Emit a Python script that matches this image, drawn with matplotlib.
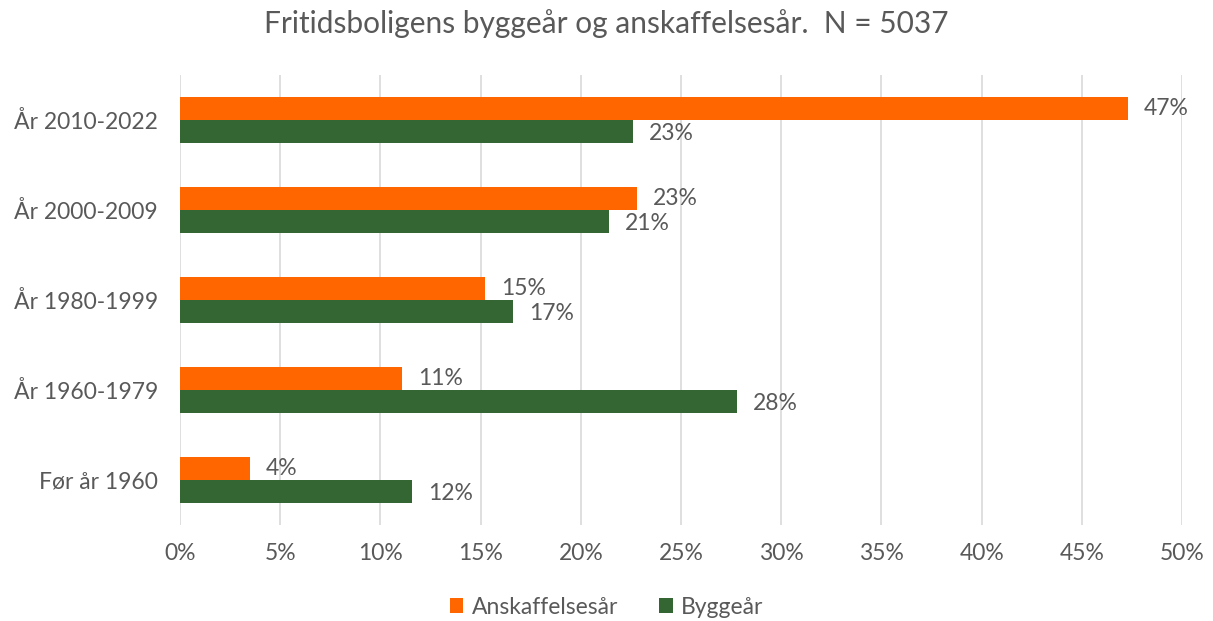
import matplotlib.pyplot as plt
import numpy as np

plt.rcParams['font.family'] = ['Lato', 'DejaVu Sans']

categories = ['År 2010-2022', 'År 2000-2009', 'År 1980-1999', 'År 1960-1979', 'Før år 1960']
anskaffelse = [47.3, 22.8, 15.2, 11.1, 3.5]
bygge = [22.6, 21.4, 16.6, 27.8, 11.6]
xticks = [0, 5, 10, 15, 20, 25, 30, 35, 40, 45, 50]

orange = '#FF6600'
green = '#336633'
text_col = '#595959'

fig = plt.figure(figsize=(12.13, 6.21), dpi=100)
ax = fig.add_axes([0.1484, 0.1546, 0.8261, 0.7246])

y = np.arange(len(categories))
h = 0.256
ax.barh(y - h / 2, anskaffelse, height=h, color=orange, label='Anskaffelsesår')
ax.barh(y + h / 2, bygge, height=h, color=green, label='Byggeår')

# dataetiketter ved enden av hver stolpe
for yi, v in zip(y, anskaffelse):
    ax.text(v + 0.8, yi - h / 2, f'{round(v):.0f}%', va='center', ha='left',
            fontsize=16.5, color=text_col)
for yi, v in zip(y, bygge):
    ax.text(v + 0.8, yi + h / 2 + 0.02, f'{round(v):.0f}%', va='center', ha='left',
            fontsize=16.5, color=text_col)

ax.set_ylim(len(categories) - 0.5, -0.5)
ax.set_xlim(0, 50)
ax.set_yticks(y)
ax.set_yticklabels(categories)
ax.set_xticks(xticks)
ax.set_xticklabels([f'{t}%' for t in xticks])
ax.tick_params(axis='both', length=0, labelsize=16.5, colors=text_col)
ax.tick_params(axis='y', pad=16)
ax.tick_params(axis='x', pad=13)
ax.grid(axis='x', color='#D9D9D9', linewidth=1.2)
ax.set_axisbelow(True)
for s in ax.spines.values():
    s.set_visible(False)

fig.suptitle('Fritidsboligens byggeår og anskaffelsesår.  N = 5037', y=0.985,
             fontsize=21.5, color=text_col)
fig.legend(loc='lower center', bbox_to_anchor=(0.5, -0.028), ncol=2, frameon=False,
           fontsize=16.5, labelcolor=text_col, handlelength=0.6, handleheight=0.6,
           handletextpad=0.35, columnspacing=1.8)

fig.savefig('out.png', dpi=100)
